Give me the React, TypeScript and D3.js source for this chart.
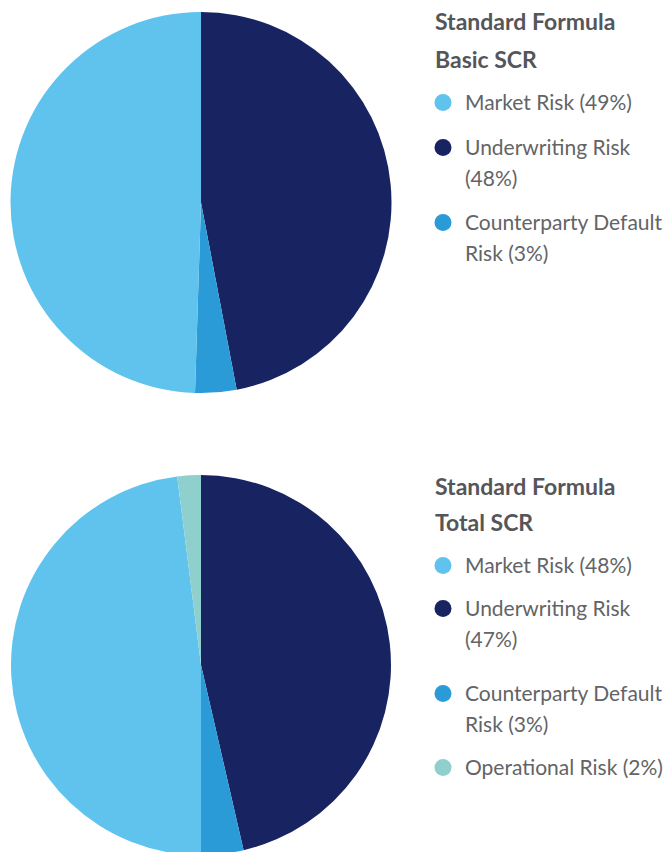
import { arc, pie, PieArcDatum } from "d3";

// colours per risk category
const colors: Record<string, string> = {
  "Market Risk": "#5fc3ed",
  "Underwriting Risk": "#182462",
  "Counterparty Default Risk": "#2a9bd7",
  "Operational Risk": "#8fd0cf",
};

// basic SCR, clockwise from 12 o'clock
const basicCategories = ["Underwriting Risk", "Counterparty Default Risk", "Market Risk"];
const basicValues = [47.0, 3.5, 49.5];
const basicTitle = ["Standard Formula", "Basic SCR"];
const basicLegend = [
  { key: "Market Risk", lines: ["Market Risk (49%)"] },
  { key: "Underwriting Risk", lines: ["Underwriting Risk", "(48%)"] },
  { key: "Counterparty Default Risk", lines: ["Counterparty Default", "Risk (3%)"] },
];

// total SCR
const totalCategories = ["Underwriting Risk", "Counterparty Default Risk", "Market Risk", "Operational Risk"];
const totalValues = [46.4, 3.6, 48.0, 2.0];
const totalTitle = ["Standard Formula", "Total SCR"];
const totalLegend = [
  { key: "Market Risk", lines: ["Market Risk (48%)"] },
  { key: "Underwriting Risk", lines: ["Underwriting Risk", "(47%)"] },
  { key: "Counterparty Default Risk", lines: ["Counterparty Default", "Risk (3%)"] },
  { key: "Operational Risk", lines: ["Operational Risk (2%)"] },
];

const FONT = "Lato, 'Open Sans', sans-serif";

type Slice = { cat: string; value: number };

function Pie({ cx, cy, r, cats, values }: { cx: number; cy: number; r: number; cats: string[]; values: number[] }) {
  const data: Slice[] = cats.map((c, i) => ({ cat: c, value: values[i] }));
  const arcs = pie<Slice>().value(d => d.value).sort(null)(data);
  const a = arc<PieArcDatum<Slice>>().innerRadius(0).outerRadius(r);
  return (
    <g transform={`translate(${cx},${cy})`}>
      {arcs.map(d => (
        <path key={d.data.cat} d={a(d) || ""} fill={colors[d.data.cat]} />
      ))}
    </g>
  );
}

function Legend({ x, titleY, itemYs, title, items }: {
  x: number; titleY: number[]; itemYs: number[]; title: string[];
  items: { key: string; lines: string[] }[];
}) {
  return (
    <g fontFamily={FONT}>
      {title.map((t, i) => (
        <text key={t} x={x} y={titleY[i]} fontSize={23} fontWeight={700} fill="#555659">{t}</text>
      ))}
      {items.map((it, i) => (
        <g key={it.key}>
          <circle cx={x + 8} cy={itemYs[i] - 7.5} r={8.5} fill={colors[it.key]} />
          {it.lines.map((l, j) => (
            <text key={l} x={x + 30} y={itemYs[i] + j * 31} fontSize={21} fill="#636466">{l}</text>
          ))}
        </g>
      ))}
    </g>
  );
}

export default function App() {
  return (
    <svg width={665} height={852} style={{ position: "absolute", left: 0, top: 0 }}>
      <rect width={665} height={852} fill="#fff" />
      <Pie cx={201} cy={202.5} r={190.5} cats={basicCategories} values={basicValues} />
      <Pie cx={201} cy={665} r={190} cats={totalCategories} values={totalValues} />
      <Legend x={435} titleY={[30, 68]} itemYs={[110, 155, 230]} title={basicTitle} items={basicLegend} />
      <Legend x={435} titleY={[495, 531]} itemYs={[573, 616, 701, 775]} title={totalTitle} items={totalLegend} />
    </svg>
  );
}
